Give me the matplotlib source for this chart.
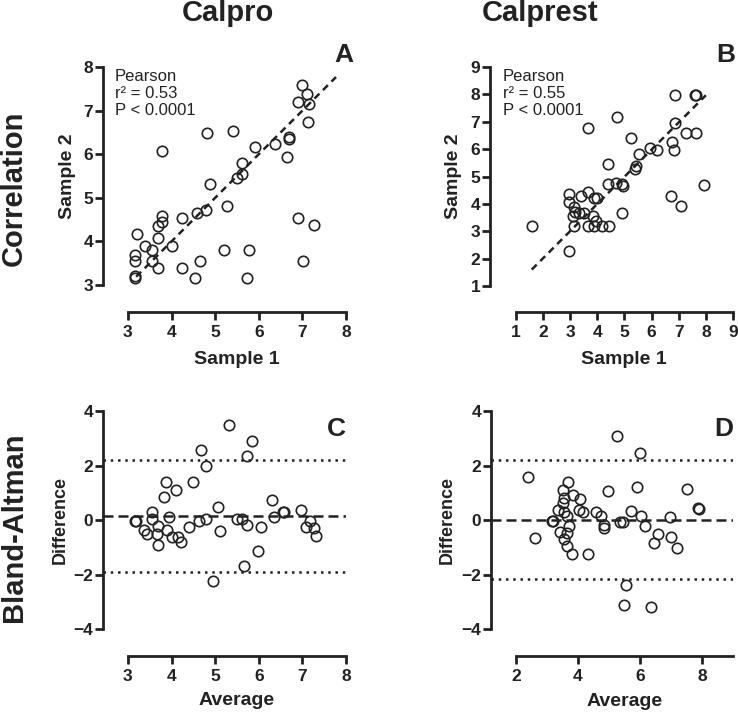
import numpy as np
import matplotlib
matplotlib.use("Agg")
import matplotlib.pyplot as plt

plt.rcParams['font.family'] = ['Liberation Sans', 'DejaVu Sans']

INK = '#222222'

# Panel A: Calpro correlation (sample 1 vs sample 2)
calpro_s1 = [6.98, 7.10, 6.91, 7.14, 7.12, 4.82, 5.42, 3.79, 5.92, 6.37, 6.70, 6.70,
             6.64, 5.61, 5.61, 5.50, 4.89, 5.27, 4.58, 4.79, 4.24, 3.79, 3.79, 3.68,
             3.68, 3.21, 3.40, 3.55, 4.01, 3.17, 3.17, 3.55, 3.68, 3.17, 3.17, 4.24,
             4.54, 4.66, 5.21, 5.78, 5.73, 6.89, 7.27, 7.02]
calpro_s2 = [7.58, 7.37, 7.20, 7.15, 6.74, 6.49, 6.54, 6.07, 6.17, 6.24, 6.40, 6.36,
             5.94, 5.79, 5.54, 5.46, 5.31, 4.82, 4.64, 4.72, 4.54, 4.59, 4.44, 4.36,
             4.08, 4.16, 3.90, 3.80, 3.90, 3.69, 3.54, 3.56, 3.39, 3.20, 3.16, 3.39,
             3.17, 3.54, 3.80, 3.80, 3.17, 4.54, 4.38, 3.54]
calpro_fit_x = [3.19, 7.77]
calpro_fit_y = [3.19, 7.77]

# Panel B: Calprest correlation
calprest_s1 = [6.88, 7.59, 7.63, 4.71, 3.67, 6.88, 7.25, 7.65, 5.24, 5.94, 6.21, 6.76,
               6.82, 5.53, 5.41, 5.39, 4.41, 4.41, 4.68, 4.90, 4.96, 4.93, 7.92, 6.70,
               7.07, 2.97, 2.97, 3.39, 3.67, 3.98, 3.88, 3.14, 3.18, 3.34, 3.52, 3.83,
               3.94, 3.12, 3.14, 3.65, 3.89, 4.16, 4.43, 2.97, 1.59]
calprest_s2 = [7.97, 7.97, 7.97, 7.18, 6.79, 6.95, 6.58, 6.60, 6.42, 6.05, 5.97, 6.26,
               5.96, 5.84, 5.39, 5.29, 5.45, 4.72, 4.78, 4.72, 4.64, 3.66, 4.68, 4.29,
               3.91, 4.36, 4.08, 4.29, 4.44, 4.23, 4.23, 3.89, 3.71, 3.65, 3.65, 3.54,
               3.38, 3.54, 3.18, 3.18, 3.18, 3.18, 3.18, 2.29, 3.18]
calprest_fit_x = [1.59, 8.0]
calprest_fit_y = [1.60, 7.97]

# Panel C: Calpro Bland-Altman
calpro_avg = [5.31, 5.84, 5.74, 4.67, 4.79, 4.50, 3.87, 4.10, 3.83, 3.55, 3.55, 3.95,
              3.19, 3.17, 3.36, 3.44, 3.68, 3.66, 3.69, 3.89, 4.02, 4.14, 4.21, 4.40,
              4.62, 4.79, 5.06, 5.11, 5.50, 5.61, 5.73, 6.05, 5.99, 5.66, 4.95, 6.30,
              6.34, 6.55, 6.58, 6.96, 7.18, 7.08, 7.27, 7.31]
calpro_diff = [3.49, 2.91, 2.36, 2.57, 2.00, 1.41, 1.39, 1.11, 0.86, 0.31, 0.04, 0.10,
               -0.02, -0.02, -0.36, -0.52, -0.21, -0.52, -0.93, -0.36, -0.64, -0.63, -0.79, -0.27,
               -0.03, 0.04, 0.47, -0.40, 0.04, 0.04, -0.18, -0.27, -1.12, -1.67, -2.25, 0.72,
               0.13, 0.31, 0.29, 0.37, -0.02, -0.27, -0.30, -0.58]
calpro_bias = 0.15
calpro_loa = [2.2, -1.9]

# Panel D: Calprest Bland-Altman
calprest_avg = [5.25, 6.01, 2.38, 3.69, 3.53, 3.55, 3.53, 3.85, 4.07, 4.98, 5.90, 7.51,
                3.37, 3.55, 3.66, 4.04, 4.17, 4.60, 4.74, 5.72, 6.05, 6.97, 7.87, 7.89,
                3.17, 3.19, 3.71, 4.83, 4.85, 5.37, 5.47, 6.15, 6.57, 6.45, 6.99, 7.21,
                3.42, 3.55, 3.64, 3.66, 3.82, 4.33, 2.63, 5.54, 5.50, 6.35]
calprest_diff = [3.10, 2.47, 1.59, 1.41, 1.11, 0.80, 0.62, 0.92, 0.76, 1.05, 1.20, 1.13,
                 0.38, 0.31, 0.15, 0.38, 0.31, 0.31, 0.15, 0.34, 0.15, 0.12, 0.43, 0.39,
                 -0.02, -0.02, -0.21, -0.18, -0.30, -0.06, -0.06, -0.21, -0.51, -0.85, -0.64, -1.01,
                 -0.45, -0.71, -0.47, -0.97, -1.25, -1.24, -0.66, -2.38, -3.13, -3.20]
calprest_bias = 0.0
calprest_loa = [2.2, -2.17]


def style_axes(ax, xlim, ylim, xb, yb, xticks, yticks):
    ax.set_xlim(*xlim)
    ax.set_ylim(*ylim)
    for s in ['top', 'right']:
        ax.spines[s].set_visible(False)
    for s in ['left', 'bottom']:
        ax.spines[s].set_linewidth(2.0)
        ax.spines[s].set_color(INK)
        ax.spines[s].set_capstyle('projecting')
    ax.spines['bottom'].set_bounds(*xb)
    ax.spines['left'].set_bounds(*yb)
    ax.set_xticks(xticks)
    ax.set_yticks(yticks)
    ax.tick_params(direction='out', length=5.5, width=2.0, color=INK,
                   labelsize=12.5, labelcolor=INK)
    ax.tick_params(axis='x', pad=3.5)
    ax.tick_params(axis='y', pad=1.5)
    for lab in ax.get_xticklabels() + ax.get_yticklabels():
        lab.set_fontweight('bold')


def scatter(ax, x, y):
    ax.plot(x, y, 'o', ms=7.5, mfc='none', mec=INK, mew=1.2, clip_on=False, zorder=3)


fig = plt.figure(figsize=(7.38, 7.13), dpi=100)
ax_a = fig.add_axes([0.1396, 0.5624, 0.3293, 0.3436])
ax_b = fig.add_axes([0.6640, 0.5624, 0.3293, 0.3436])
ax_c = fig.add_axes([0.1396, 0.0799, 0.3293, 0.3436])
ax_d = fig.add_axes([0.6653, 0.0799, 0.3279, 0.3436])

# A
scatter(ax_a, calpro_s1, calpro_s2)
ax_a.plot(calpro_fit_x, calpro_fit_y, color=INK, lw=1.8, dashes=(2.8, 2.0))
style_axes(ax_a, (2.43, 8.0), (2.38, 8.0), (3, 8), (3, 8), range(3, 9), range(3, 9))
ax_a.text(0.049, 0.99, 'Pearson\nr² = 0.53\nP < 0.0001', transform=ax_a.transAxes,
          ha='left', va='top', fontsize=12, color=INK, linespacing=1.15)

# B
scatter(ax_b, calprest_s1, calprest_s2)
ax_b.plot(calprest_fit_x, calprest_fit_y, color=INK, lw=1.8, dashes=(2.8, 2.0))
style_axes(ax_b, (0.055, 9.0), (0.05, 9.0), (1, 9), (1, 9), range(1, 10), range(1, 10))
ax_b.text(0.053, 0.99, 'Pearson\nr² = 0.55\nP < 0.0001', transform=ax_b.transAxes,
          ha='left', va='top', fontsize=12, color=INK, linespacing=1.15)

# C
scatter(ax_c, calpro_avg, calpro_diff)
ax_c.axhline(calpro_bias, color=INK, lw=1.8, dashes=(4, 2))
for v in calpro_loa:
    ax_c.axhline(v, color=INK, lw=1.8, dashes=(1, 1.9))
style_axes(ax_c, (2.43, 8.0), (-4.99, 4.0), (3, 8), (-4, 4), range(3, 9), range(-4, 5, 2))

# D
scatter(ax_d, calprest_avg, calprest_diff)
ax_d.axhline(calprest_bias, color=INK, lw=1.8, dashes=(4, 2))
for v in calprest_loa:
    ax_d.axhline(v, color=INK, lw=1.8, dashes=(1, 1.9))
style_axes(ax_d, (1.2, 9.0), (-4.99, 4.0), (2, 9), (-4, 4), [2, 4, 6, 8], range(-4, 5, 2))

# axis labels
lab_kw = dict(fontsize=14, fontweight='bold', color=INK)
for ax, xl, yl, ylx, xly in [(ax_a, 'Sample 1', 'Sample 2', -0.148, -0.192),
                             (ax_b, 'Sample 1', 'Sample 2', -0.152, -0.192),
                             (ax_c, 'Average', 'Difference', -0.177, -0.18),
                             (ax_d, 'Average', 'Difference', -0.182, -0.185)]:
    ax.set_xlabel(xl, va='center', **lab_kw)
    ax.set_ylabel(yl, va='center', **lab_kw)
    ax.xaxis.set_label_coords(0.551, xly)
    ax.yaxis.set_label_coords(ylx, 0.555)
ax_c.yaxis.label.set_fontsize(13)
ax_d.yaxis.label.set_fontsize(13)

# panel letters
for ax, letter, x, y in [(ax_a, 'A', 1.03, 1.02), (ax_b, 'B', 1.008, 1.02),
                         (ax_c, 'C', 1.0, 0.90), (ax_d, 'D', 1.0, 0.90)]:
    ax.text(x, y, letter, transform=ax.transAxes, ha='right',
            va='baseline', fontsize=19, fontweight='bold', color=INK)

# column and row titles
fig.text(228 / 738, 1 - 13 / 713, 'Calpro', ha='center', va='center',
         fontsize=21, fontweight='bold', color=INK)
fig.text(540 / 738, 1 - 13 / 713, 'Calprest', ha='center', va='center',
         fontsize=21, fontweight='bold', color=INK)
fig.text(14 / 738, 1 - 188 / 713, 'Correlation', rotation=90, ha='center', va='center',
         fontsize=21, fontweight='bold', color=INK)
fig.text(14 / 738, 1 - 527 / 713, 'Bland-Altman', rotation=90, ha='center', va='center',
         fontsize=21, fontweight='bold', color=INK)

fig.savefig('out.png', dpi=100, facecolor='white')
